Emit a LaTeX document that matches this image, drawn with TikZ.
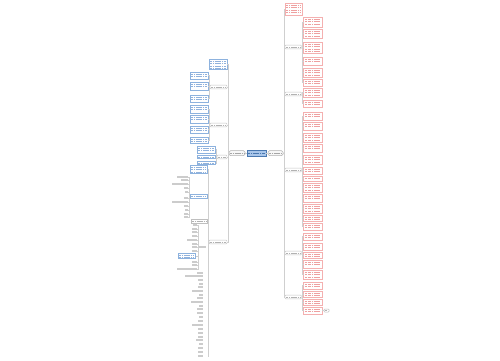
\documentclass[tikz,border=0pt]{standalone}
\usetikzlibrary{calc}
\definecolor{rb}{HTML}{F4B0B0}
\definecolor{rt}{HTML}{E88080}
\definecolor{bb}{HTML}{8DB2DE}
\definecolor{bt}{HTML}{6C98D0}
\definecolor{ln}{HTML}{CFCFCF}
\definecolor{rootf}{HTML}{A9C6EA}
\definecolor{rootd}{HTML}{4A78B0}
\tikzset{
  every node/.style={inner sep=0pt, outer sep=0pt},
  conn/.style={draw=ln, line width=0.5pt},
  tlines/.style n args={2}{path picture={
    \foreach \k in {1,...,#1}
      \draw[#2, line width=0.7pt, dash pattern=on 2pt off 0.6pt on 1.2pt off 0.6pt]
        ($(path picture bounding box.north west)+(1.4pt,{-\k*2.4pt+0.2pt})$) --
        ($(path picture bounding box.north east)+(-1.4pt,{-\k*2.4pt+0.2pt})$);}},
  midline/.style={path picture={
      \draw[#1, line width=0.65pt, dash pattern=on 2pt off 0.6pt on 1.2pt off 0.6pt]
        ($(path picture bounding box.west)+(1.3pt,0)$) --
        ($(path picture bounding box.east)+(-1.3pt,0)$);}},
  rleaf/.style={draw=rb, line width=0.5pt, fill=white, rectangle, tlines={#1}{rt!75}},
  bleaf/.style={draw=bb, line width=0.5pt, fill=white, rectangle, tlines={#1}{bt!75}},
  gbox/.style={draw=gray!50, line width=0.5pt, fill=white, rectangle, midline=gray!60},
  sublab/.style={draw=gray!45, line width=0.45pt, fill=white, rounded corners=0.8pt,
    minimum height=3.6pt, midline=gray!60},
  mainbox/.style={draw=gray!60, line width=0.5pt, fill=gray!6, rounded corners=1.5pt,
    minimum height=5pt, midline=gray!70},
  rootbox/.style={draw=rootd, line width=0.6pt, fill=rootf, minimum height=5.5pt,
    midline=rootd},
  item/.style={fill=gray!40, minimum height=1.3pt, anchor=east},
}
\begin{document}
\begin{tikzpicture}[x=1pt,y=-1pt]
\fill[white] (0,0) rectangle (500,360);
\useasboundingbox (0,0) rectangle (500,360);

% ---------- centre ----------
\node[rootbox, minimum width=19pt] (root) at (256.5,153.2) {};
\node[mainbox, minimum width=16pt] (LM) at (237,153.2) {};
\node[mainbox, minimum width=15pt] (RM) at (275.5,153.2) {};
\draw[conn] (root.west) -- (LM.east);
\draw[conn] (root.east) -- (RM.west);

% ---------- right side ----------
\node[rleaf=4, minimum width=17pt, minimum height=12pt, anchor=north west] (T0) at (285,3) {};
\node[sublab, minimum width=16.5pt, anchor=west] (SA) at (285,47) {};
\node[sublab, minimum width=16.5pt, anchor=west] (SB) at (285,94) {};
\node[sublab, minimum width=16.5pt, anchor=west] (SC) at (285,170) {};
\node[sublab, minimum width=16.5pt, anchor=west] (SD) at (285,253) {};
\node[sublab, minimum width=16.5pt, anchor=west] (SE) at (285,297) {};
\foreach \c in {T0,SA,SB,SC,SD,SE}
  \draw[conn] (RM.east) -- ++(1pt,0) |- (\c.west);

\foreach \i/\t/\b in {1/17/27, 2/29/38, 3/42/53, 4/57/65, 5/68/77, 6/79/86,
    7/88/97, 8/100/107,
    9/112/120, 10/122/130, 11/133/142, 12/144/152, 13/155/164, 14/167/174,
    15/176/181, 16/183/192, 17/194/202, 18/204/213, 19/215/221, 20/223/230,
    21/233/240, 22/243/250, 23/252/258, 24/260/268, 25/270/279,
    26/282/289, 27/291/297, 28/299/305, 29/307/314}{
  \pgfmathsetmacro\h{\b-\t}
  \pgfmathtruncatemacro\nl{max(1,floor((\h-1.2)/2.4))}
  \node[rleaf=\nl, minimum width=18.5pt, minimum height={\h*1pt}, anchor=north west] (r\i) at (303.5,\t) {};
}
\foreach \g/\a/\b in {SA/1/6, SB/7/8, SC/9/20, SD/21/25, SE/26/29}
  \foreach \i in {\a,...,\b}
    \draw[conn] (\g.east) -- ++(1.2pt,0) |- (r\i.west);
\node[gbox, minimum width=5pt, minimum height=3pt, rounded corners=0.8pt] (X) at (326.5,310.5) {};
\draw[conn] (r29.east) -- (X.west);

% ---------- left side ----------
\node[bleaf=4, minimum width=18pt, minimum height=10.5pt, anchor=north east] (L0) at (227,59) {};
\node[sublab, minimum width=17pt, anchor=east] (LA) at (227,87) {};
\node[sublab, minimum width=17pt, anchor=east] (LB) at (227,125) {};
\node[sublab, minimum width=10pt, anchor=east] (LC) at (227,157) {};
\node[sublab, minimum width=18pt, anchor=east] (LD) at (227,242) {};
\foreach \c in {L0,LA,LB,LC,LD}
  \draw[conn] (LM.west) -- ++(-1pt,0) |- (\c.east);

\foreach \i/\t/\b in {1/72/79, 2/82/90, 3/95/102, 4/105/113, 5/115/123, 6/126/133, 7/137/143}{
  \pgfmathsetmacro\h{\b-\t}
  \pgfmathtruncatemacro\nl{max(1,floor((\h-1.2)/2.4))}
  \node[bleaf=\nl, minimum width=18pt, minimum height={\h*1pt}, anchor=north east] (l\i) at (208,\t) {};
}
\foreach \i in {1,2,3} \draw[conn] (LA.west) -- ++(-1pt,0) |- (l\i.east);
\foreach \i in {4,5,6,7} \draw[conn] (LB.west) -- ++(-1pt,0) |- (l\i.east);

\node[bleaf=2, minimum width=18.5pt, minimum height=7pt, anchor=north east] (c1) at (215.5,146) {};
\node[bleaf=1, minimum width=18.5pt, minimum height=3.2pt, anchor=north east] (c2) at (215.5,155.5) {};
\node[bleaf=1, minimum width=18.5pt, minimum height=3.2pt, anchor=north east] (c3) at (215.5,161.5) {};
\foreach \i in {1,2,3} \draw[conn] (LC.west) -- ++(-1pt,0) |- (c\i.east);

% LD group
\node[bleaf=3, minimum width=17.5pt, minimum height=8pt, anchor=north east] (D1) at (207.5,165) {};
\node[bleaf=1, minimum width=17.5pt, minimum height=4.5pt, anchor=north east] (D2) at (207.5,194) {};
\node[gbox, minimum width=16.5pt, minimum height=4pt, anchor=north east] (D3) at (207.5,219) {};
\node[item, minimum width=7pt] (D4) at (206,247) {};
\foreach \c in {D1,D2,D3}
  \draw[conn] (LD.west) -- ++(-1.2pt,0) |- (\c.east);
\draw[conn] (LD.west) -- ++(-1.2pt,0) |- ([xshift=1.5pt]D4.east);

\foreach \i/\y/\w in {1/177/11, 2/180/7, 3/184/16, 4/188/4, 5/192/3.5, 6/198/4,
    7/202/16, 8/206/4, 9/210/3.5, 10/214/4, 11/217/4}{
  \node[item, minimum width={\w*1pt}] (g\i) at (188,\y) {};
  \draw[conn] (D2.west) -- ++(-1pt,0) |- (g\i.east);
}
\foreach \i/\y/\w in {1/225/4, 2/229/5, 3/232/5, 4/236/5, 5/240/10, 6/244/5,
    7/247/5, 8/251/5, 9/262/5, 10/265/5, 11/269/20}{
  \node[item, minimum width={\w*1pt}] (h\i) at (197,\y) {};
  \draw[conn] (D4.west) -- ++(-1pt,0) |- (h\i.east);
}
\node[bleaf=2, minimum width=17.5pt, minimum height=5.5pt, anchor=north east] (hb) at (195.5,253) {};
\draw[conn] (D4.west) -- ++(-1pt,0) |- (hb.east);

\foreach \i/\y/\w in {1/273/6, 2/276/18, 3/280/5, 4/284/4, 5/287/5, 6/291/11,
    7/295/4, 8/298/6, 9/302/12, 10/306/4, 11/309/6, 12/313/6, 13/317/4,
    14/321/5, 15/325/11, 16/329/5, 17/333/5, 18/337/5, 19/340/7, 20/344/4,
    21/348/5, 22/352/5, 23/356/5}{
  \node[item, minimum width={\w*1pt}] (e\i) at (203,\y) {};
  \draw[conn] (LD.west) -- ++(-1.2pt,0) |- ([xshift=4.6pt]e\i.east);
}
\end{tikzpicture}
\end{document}
